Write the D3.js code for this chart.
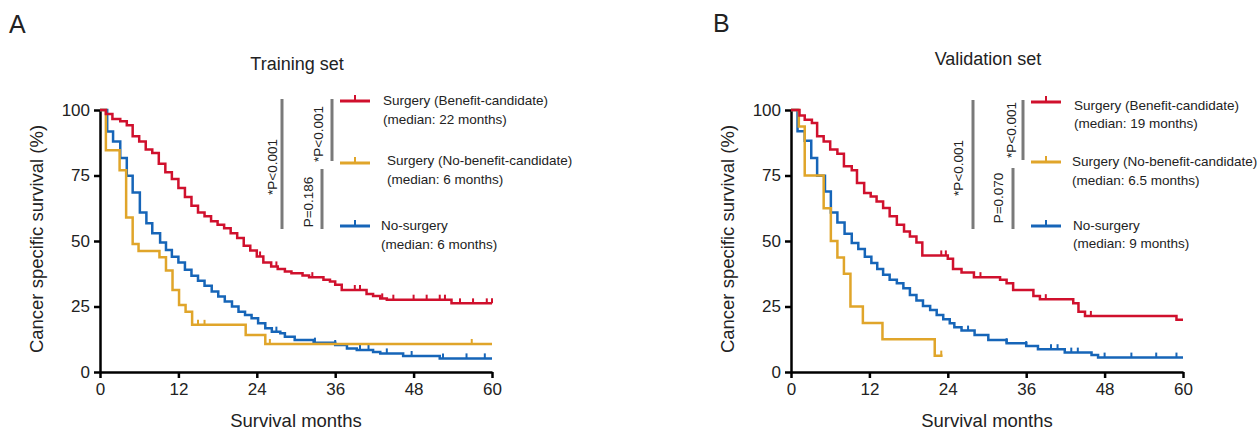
<!DOCTYPE html>
<html>
<head>
<meta charset="utf-8">
<script src="https://cdn.jsdelivr.net/npm/d3@7"></script>
<style>
  body { margin: 0; background: #fff; }
  svg text { font-family: "Liberation Sans", Arial, Helvetica, sans-serif; fill: #222; }
</style>
</head>
<body>
<script>
// Data (months, survival %)
const xTicks = [0, 12, 24, 36, 48, 60];
const yTicks = [0, 25, 50, 75, 100];

// Training set
const trainBenefitTime = [0, 0.9, 1.9, 3.1, 4.1, 5, 6, 7, 8, 9, 10, 11, 12, 13, 14, 15, 16, 17, 18, 19, 20, 21, 22, 23, 24, 25, 26.2, 27.2, 28.3, 29.3, 31, 32, 34.2, 35.2, 36, 37, 40.8, 41.8, 42.9, 43.9, 53.8, 60];
const trainBenefitSurv = [100, 98.5, 96.6, 95.7, 94.2, 90, 88, 84.9, 83.6, 79.5, 76.2, 73.7, 70.2, 66.8, 63.5, 60.9, 59.4, 57.5, 56.2, 54.9, 53, 51.1, 48.2, 46.4, 44.1, 41.8, 40.3, 39.3, 38.4, 37.7, 36.8, 36.2, 35.2, 34.5, 33.3, 31.3, 29.8, 29, 28.1, 27.6, 26.2, 26.2];
const trainBenefitCensor = [24.5, 27, 32.5, 39, 39.8, 43.2, 44.9, 48, 50, 52, 52.8, 55.1, 57.1, 59.2, 60];

const trainNoBenefitTime = [0, 0.9, 3, 4, 5, 5.9, 9.1, 10.1, 11.1, 12.1, 13.1, 14.1, 22.3, 25.3, 60];
const trainNoBenefitSurv = [100, 84.6, 77, 59, 48.9, 46.2, 43.8, 38.7, 31.3, 25.6, 23, 18, 14.1, 10.7, 10.7];
const trainNoBenefitCensor = [15, 16, 26, 56.9];

const trainNoSurgeryTime = [0, 1.1, 2, 3.1, 4.1, 5, 6.1, 7.1, 8, 9.2, 10.1, 11, 12, 13, 14, 15, 16, 17.1, 18.1, 19.1, 20.2, 21.2, 22.2, 23.2, 24.2, 25.3, 26.3, 27.6, 28.3, 29.8, 32.7, 36, 37.8, 39.3, 41.8, 42.9, 46.4, 52, 60];
const trainNoSurgerySurv = [100, 91.8, 88, 81.7, 74.9, 68.5, 60.9, 56.8, 53, 49.4, 46.6, 44, 41.8, 39, 36.7, 34.8, 32.9, 30.7, 28.8, 26.9, 25, 23, 21.8, 20.5, 18.6, 16.7, 15.4, 14.8, 13.5, 12.2, 11.2, 10.3, 9, 8.4, 7.6, 7.1, 6.1, 5.2, 5.2];
const trainNoSurgeryCensor = [27, 32.9, 36, 39.8, 41.1, 43.9, 47.7, 52.5, 56.1, 58.9];

// Validation set
const valBenefitTime = [0, 1.3, 2.1, 3.2, 4, 5, 6, 7.1, 8.1, 9.3, 10.1, 11.2, 12.2, 13.1, 14.1, 15.1, 16.2, 17.3, 18.2, 19.2, 20.1, 24, 24.8, 26.1, 28, 32, 33, 34, 37.1, 38.1, 43.2, 44, 45, 59, 60];
const valBenefitSurv = [100, 97.9, 96.3, 95, 90, 88, 84.9, 83.3, 78.5, 77, 72.1, 68.3, 67, 65.1, 62.6, 59.4, 56.2, 53.6, 51.7, 49.4, 44.5, 43.2, 39.3, 38, 36.2, 35.2, 33.9, 31.3, 29, 27.8, 26.2, 23, 21.4, 19.9, 19.9];
const valBenefitCensor = [23, 23.7, 29, 39, 45.9];

const valNoBenefitTime = [0, 1.2, 2.1, 5, 6.1, 7.1, 8.1, 9.1, 11, 14, 22, 23.2];
const valNoBenefitSurv = [100, 93.75, 75, 62.5, 50, 43.75, 37.5, 25, 18.75, 12.5, 6.25, 6.25];
const valNoBenefitCensor = [23];

const valNoSurgeryTime = [0, 1, 2.1, 3.1, 4, 5.2, 6.1, 7.1, 8.2, 9.3, 10.3, 11.3, 12.3, 13.2, 14.1, 15.1, 16.2, 17.2, 18.2, 19.2, 20.2, 21.3, 22.3, 23.3, 24.3, 25, 26.1, 28.1, 30.2, 33, 36, 37.8, 41.9, 46, 47, 60];
const valNoSurgerySurv = [100, 91.9, 88.3, 81.7, 74.9, 68.9, 60.9, 57.1, 52.8, 49.2, 46.9, 44, 41.6, 39.3, 37.1, 35.2, 33.9, 32, 29.4, 27.3, 25.2, 23.7, 21.8, 20.1, 18.6, 17.1, 15.8, 14.1, 12.2, 11, 9.9, 8.7, 7.4, 6.5, 5.5, 5.5];
const valNoSurgeryCensor = [27.1, 33, 36, 39.8, 40.8, 42.9, 43.9, 48, 52.1, 55.9, 59];

const groupNames = ["Surgery (Benefit-candidate)", "Surgery (No-benefit-candidate)", "No-surgery"];
const trainMedians = ["(median: 22 months)", "(median: 6 months)", "(median: 6 months)"];
const valMedians = ["(median: 19 months)", "(median: 6.5 months)", "(median: 9 months)"];
const trainPvalues = ["*P<0.001", "*P<0.001", "P=0.186"];
const valPvalues = ["*P<0.001", "*P<0.001", "P=0.070"];

const colors = ["#d0102d", "#e0a52a", "#1665b8"];

const W = 1259, H = 430;
const plotW = 392, plotTop = 110, plotBottom = 372;

const svg = d3.select("body").append("svg")
  .attr("width", W).attr("height", H);

const panels = [
  {
    letter: "A", letterX: 9, letterY: 33, left: 100, title: "Training set", titleY: 70,
    series: [
      [trainBenefitTime, trainBenefitSurv, trainBenefitCensor],
      [trainNoBenefitTime, trainNoBenefitSurv, trainNoBenefitCensor],
      [trainNoSurgeryTime, trainNoSurgerySurv, trainNoSurgeryCensor]
    ],
    medians: trainMedians, pvals: trainPvalues,
    legY: [101, 163, 226], textX: [283, 287, 281], textY: [[105, 124], [165, 184], [230, 249]],
    pTextX: [172, 218, 208], pTextY: [167, 134, 202]
  },
  {
    letter: "B", letterX: 713, letterY: 32, left: 791, title: "Validation set", titleY: 65,
    series: [
      [valBenefitTime, valBenefitSurv, valBenefitCensor],
      [valNoBenefitTime, valNoBenefitSurv, valNoBenefitCensor],
      [valNoSurgeryTime, valNoSurgerySurv, valNoSurgeryCensor]
    ],
    medians: valMedians, pvals: valPvalues,
    legY: [102, 162, 226], textX: [283, 281, 282], textY: [[110, 128], [166, 185], [230, 248]],
    pTextX: [167, 220, 207], pTextY: [168, 130, 198]
  }
];

panels.forEach(p => {
  // panel letter
  svg.append("text")
    .attr("x", p.letterX).attr("y", p.letterY)
    .style("font-size", "25px")
    .text(p.letter);

  const g = svg.append("g").attr("transform", "translate(" + p.left + ",0)");

  const x = d3.scaleLinear().domain([0, 60]).range([0, plotW]);
  const y = d3.scaleLinear().domain([0, 100]).range([plotBottom, plotTop]);

  // title
  g.append("text")
    .attr("x", 197).attr("y", p.titleY)
    .attr("text-anchor", "middle")
    .style("font-size", "18px")
    .text(p.title);

  // axes
  const xAxis = g.append("g")
    .attr("transform", "translate(0," + plotBottom + ")")
    .call(d3.axisBottom(x).tickValues(xTicks).tickSize(6).tickSizeOuter(0).tickPadding(5));
  const yAxis = g.append("g")
    .call(d3.axisLeft(y).tickValues(yTicks).tickSize(6).tickSizeOuter(0).tickPadding(4));

  [xAxis, yAxis].forEach(a => {
    a.select(".domain").attr("stroke", "#000").attr("stroke-width", 2.5);
    a.selectAll(".tick line").attr("stroke", "#000").attr("stroke-width", 2.5);
    a.selectAll(".tick text")
      .style("font-size", "17px")
      .style("font-family", "'Liberation Sans', Arial, sans-serif")
      .attr("fill", "#222");
  });

  // axis titles
  g.append("text")
    .attr("x", 196).attr("y", 427)
    .attr("text-anchor", "middle")
    .style("font-size", "18.5px")
    .text("Survival months");

  g.append("text")
    .attr("transform", "translate(-57," + 239 + ") rotate(-90)")
    .attr("text-anchor", "middle")
    .style("font-size", "18.5px")
    .text("Cancer specific survival (%)");

  const line = d3.line()
    .x(d => x(d[0]))
    .y(d => y(d[1]))
    .curve(d3.curveStepAfter);

  // draw curves: no-surgery, no-benefit, then benefit on top
  [2, 1, 0].forEach(i => {
    const [times, surv, censor] = p.series[i];
    const pts = times.map((t, k) => [t, surv[k]]);
    g.append("path")
      .datum(pts)
      .attr("fill", "none")
      .attr("stroke", colors[i])
      .attr("stroke-width", 2.5)
      .attr("d", line);

    const survAt = t => {
      let s = surv[0];
      for (let k = 0; k < times.length; k++) if (times[k] <= t) s = surv[k];
      return s;
    };
    g.selectAll(".c" + i)
      .data(censor)
      .enter().append("line")
      .attr("x1", d => x(d)).attr("x2", d => x(d))
      .attr("y1", d => y(survAt(d)))
      .attr("y2", d => y(survAt(d)) - 5)
      .attr("stroke", colors[i])
      .attr("stroke-width", 2);
  });

  // p-value brackets
  const brackets = [
    [182, p.legY[0] - 2, p.legY[2] + 3],
    [232, p.legY[0] - 2, p.legY[1] - 2],
    [222, p.legY[1] + 6, p.legY[2] + 3]
  ];
  brackets.forEach((b, i) => {
    g.append("line")
      .attr("x1", b[0]).attr("x2", b[0])
      .attr("y1", b[1]).attr("y2", b[2])
      .attr("stroke", "#7a7a7a")
      .attr("stroke-width", 3);
    g.append("text")
      .attr("transform", "translate(" + p.pTextX[i] + "," + p.pTextY[i] + ") rotate(-90)")
      .attr("text-anchor", "middle")
      .attr("dominant-baseline", "central")
      .style("font-size", "13.5px")
      .text(p.pvals[i]);
  });

  // legend
  groupNames.forEach((name, i) => {
    const ly = p.legY[i];
    g.append("line")
      .attr("x1", 240).attr("x2", 270)
      .attr("y1", ly).attr("y2", ly)
      .attr("stroke", colors[i]).attr("stroke-width", 3);
    g.append("line")
      .attr("x1", 255).attr("x2", 255)
      .attr("y1", ly).attr("y2", ly - 6)
      .attr("stroke", colors[i]).attr("stroke-width", 2);
    g.append("text")
      .attr("x", p.textX[i]).attr("y", p.textY[i][0])
      .style("font-size", "13.5px")
      .text(name);
    g.append("text")
      .attr("x", p.textX[i]).attr("y", p.textY[i][1])
      .style("font-size", "13.5px")
      .text(p.medians[i]);
  });
});
</script>
</body>
</html>
